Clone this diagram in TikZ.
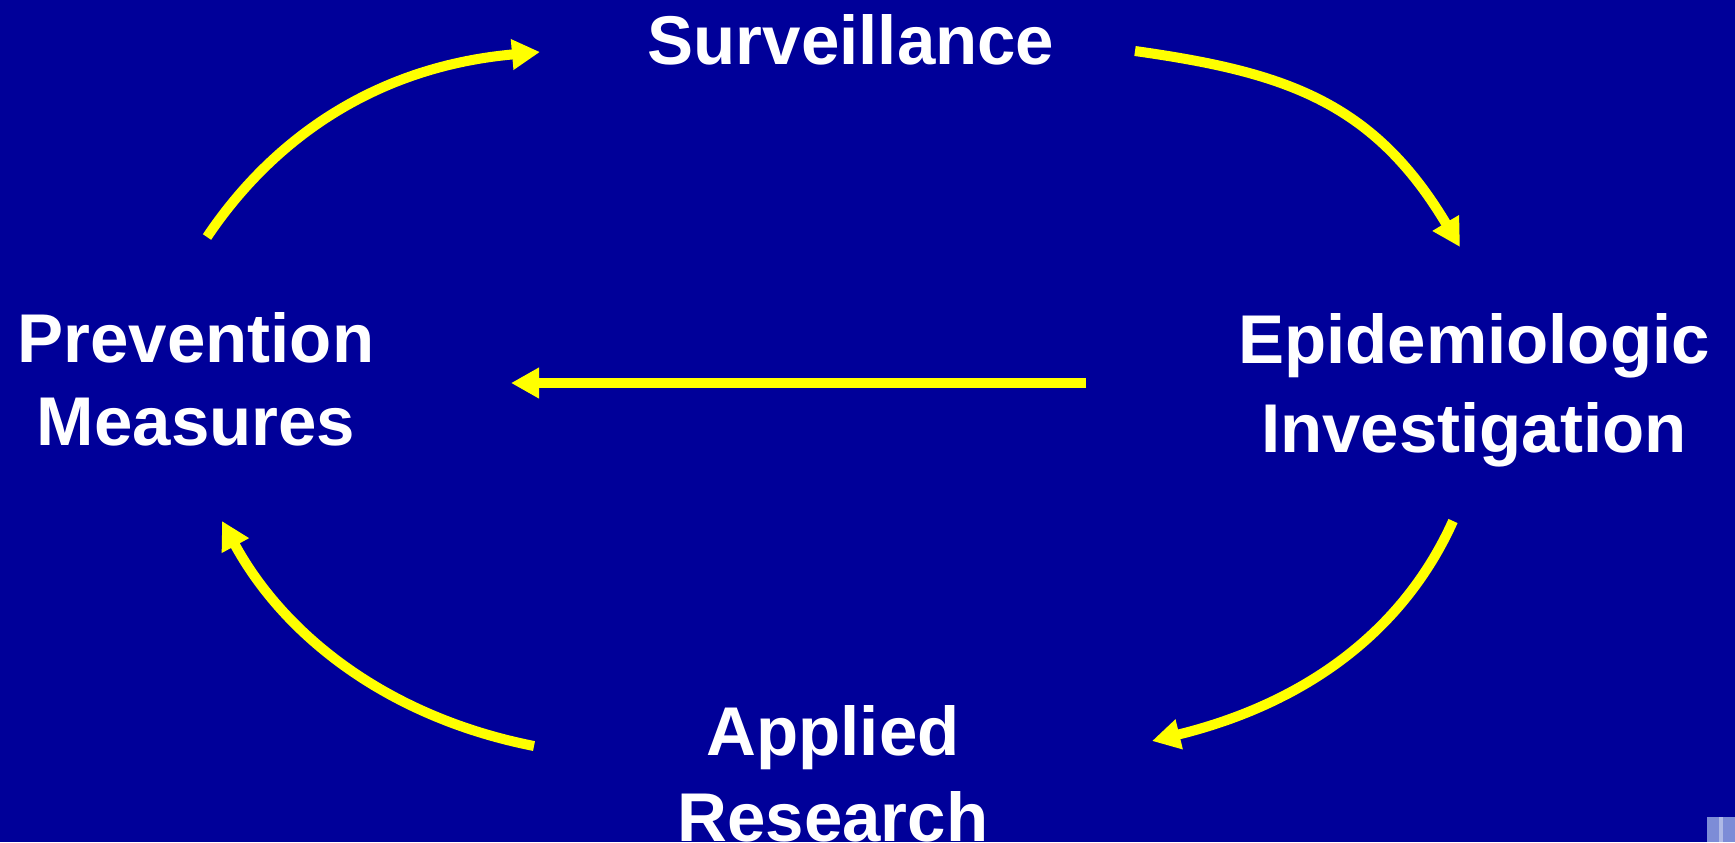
\documentclass[tikz,border=0pt]{standalone}
\usepackage{fontspec}
\setmainfont{Liberation Sans}
\usetikzlibrary{arrows.meta}
\definecolor{bgblue}{RGB}{0,0,153}
\definecolor{arrowyellow}{RGB}{255,255,0}
\definecolor{iconblue}{RGB}{125,140,215}
\definecolor{iconlight}{RGB}{175,185,230}
\tikzset{
  lbl/.style={text=white, inner sep=0pt, align=center},
  cyc/.style={draw=arrowyellow, line width=5pt,
    -{Triangle[length=14pt,width=14.5pt]}},
}
\newcommand{\capstrut}{\rule{0pt}{30pt}}
\begin{document}
\begin{tikzpicture}[x=0.5pt,y=-0.5pt]
\useasboundingbox (0,0) rectangle (1735,842);
\fill[bgblue] (0,0) rectangle (1735,842);
% corner icon
\fill[iconblue] (1707,817) rectangle (1735,842);
\fill[iconlight] (1719,817) rectangle (1723,842);

% labels
\node[lbl, anchor=base, font=\fontsize{34.5pt}{41.5pt}\selectfont\bfseries] (surv) at (851,64) {Surveillance};
\node[lbl, anchor=north, font=\fontsize{34.5pt}{41.5pt}\selectfont\bfseries] (prev) at (196,302) {\capstrut Prevention\\Measures};
\node[lbl, anchor=north, font=\fontsize{34.5pt}{44.5pt}\selectfont\bfseries] (epi) at (1474,303) {\capstrut Epidemiologic\\Investigation};
\node[lbl, anchor=north, font=\fontsize{34.5pt}{43pt}\selectfont\bfseries] (appl) at (833,695) {\capstrut Applied\\Research};

% connector end points
\coordinate (p1s) at (207,237);
\coordinate (p1e) at (540,52);
\coordinate (p2s) at (1135,51);
\coordinate (p2e) at (1460,247);
\coordinate (p3s) at (1453,521);
\coordinate (p3e) at (1152,741);
\coordinate (p4s) at (534,746);
\coordinate (p4e) at (222,521);
\coordinate (hs) at (1086,383);
\coordinate (he) at (511,383);

% arrows
\draw[cyc] (p1s) .. controls (270,143) and (371,67) .. (p1e);
\draw[cyc] (p2s) .. controls (1284,72) and (1373,101) .. (p2e);
\draw[cyc] (p3s) .. controls (1404,630) and (1307,703) .. (p3e);
\draw[cyc] (p4s) .. controls (387,717) and (284,635) .. (p4e);
\draw[cyc] (hs) -- (he);
\end{tikzpicture}
\end{document}
